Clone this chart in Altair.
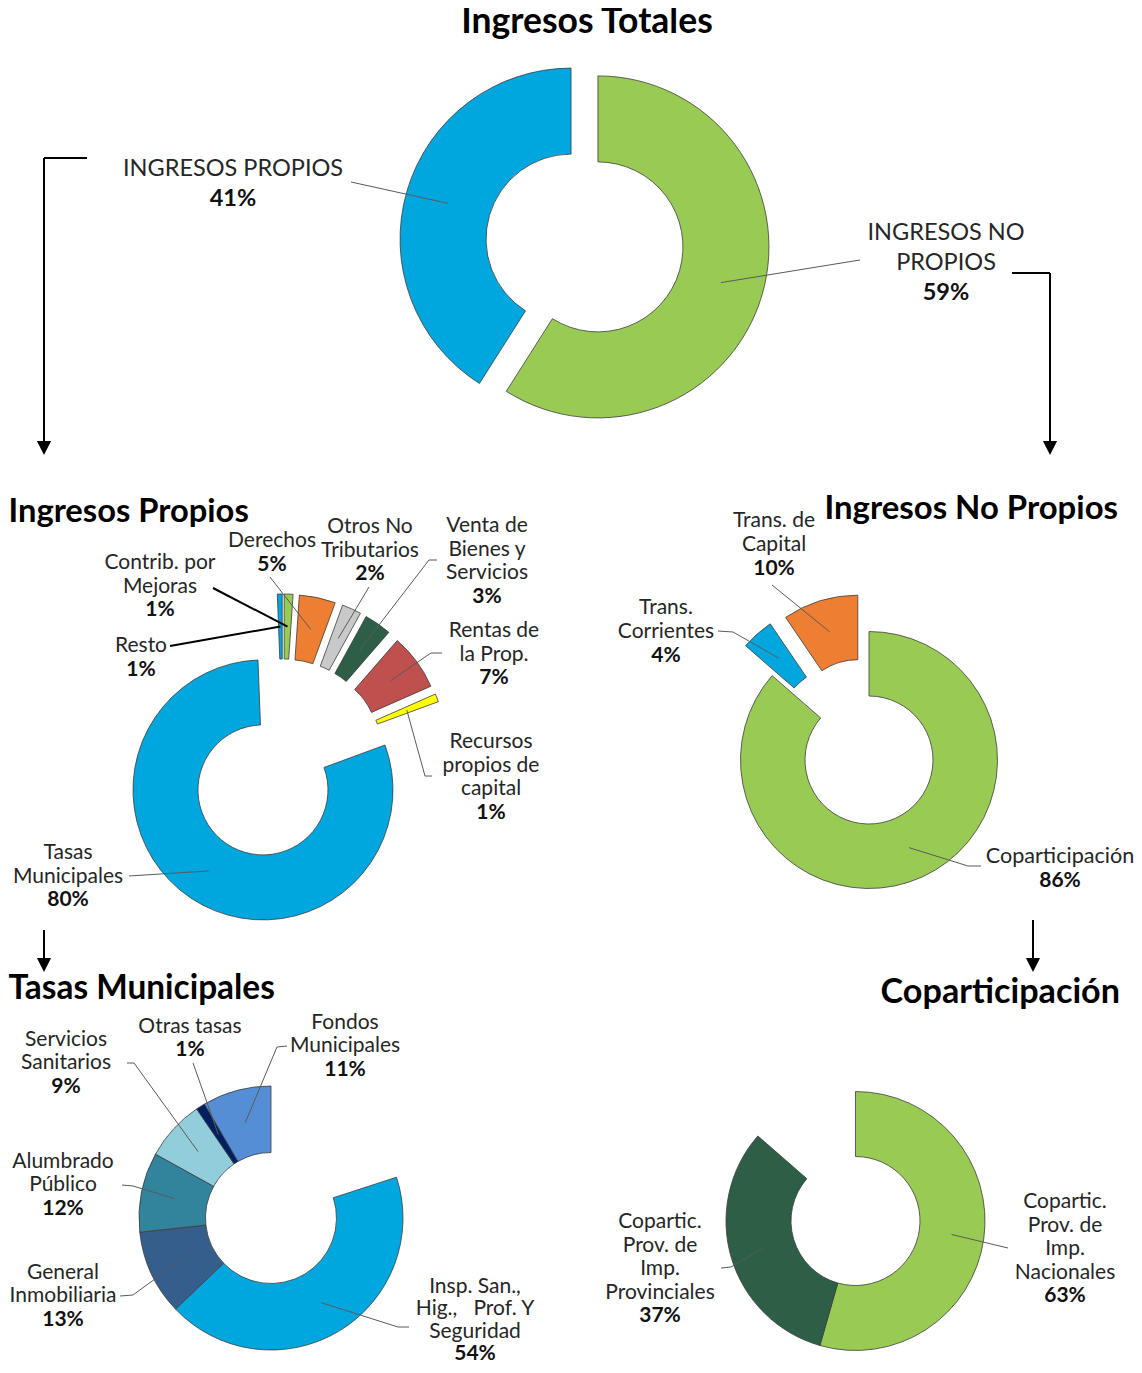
import altair as alt
import pandas as pd

# ---------------- data ----------------
total_names = ["INGRESOS NO\nPROPIOS", "INGRESOS PROPIOS"]
total_values = [59, 41]

propios_names = ["Resto", "Contrib. por\nMejoras", "Derechos", "Otros No\nTributarios",
                 "Venta de\nBienes y\nServicios", "Rentas de\nla Prop.",
                 "Recursos\npropios de\ncapital", "Tasas\nMunicipales"]
propios_values = [0.6, 1.1, 4.5, 2.4, 3.4, 7.0, 1.0, 80.0]

no_propios_names = ["Coparticipación", "Trans.\nCorrientes", "Trans. de\nCapital"]
no_propios_values = [86.4, 4.1, 9.5]

tasas_names = ["Insp. San.,\nHig.,\u00a0\u00a0 Prof. Y\nSeguridad", "General\nInmobiliaria",
               "Alumbrado\nPúblico", "Servicios\nSanitarios", "Otras tasas", "Fondos\nMunicipales"]
tasas_values = [53.6, 13.0, 12.2, 9.3, 1.4, 10.5]

copart_names = ["Copartic.\nProv. de\nImp.\nNacionales", "Copartic.\nProv. de\nImp.\nProvinciales"]
copart_values = [63, 37]

titles = ["Ingresos Totales", "Ingresos Propios", "Ingresos No Propios",
          "Tasas Municipales", "Coparticipación"]

# ---------------- styles / layout ----------------
OFF = 8
FONT = "Lato"
EDGE = "#3c3c3c"
LEAD = "#5a5a5a"
BLUE, GREEN, ORANGE = "#00A6DE", "#99CB54", "#EE7E32"
GREY, DKGREEN, RED, YELLOW = "#C9C9C9", "#2D5E46", "#C0504D", "#FFFF00"
NAVY, GENINM, ALUMB, SERV, FONDOS = "#00205F", "#355E8D", "#31849B", "#92CDDC", "#558ED5"

L_TOT = dict(c=(584.5, 243), R=171, r=85, start=0, span=360, explode=[14, 14],
             colors=[GREEN, BLUE], fs=23.5, lh=[30, 30],
             label=[(946, 233), (233, 169)],
             elbow=[(860, 260), (351, 182)], end=[(860, 260), (351, 182)],
             lw=[1, 1], lc=[LEAD, LEAD])
L_PROP = dict(c=(283, 760), R=130, r=65, start=-2.2, span=360, explode=[36] * 8,
              colors=[BLUE, GREEN, ORANGE, GREY, DKGREEN, RED, YELLOW, BLUE], fs=21, lh=[23.5] * 8,
              label=[(141, 646), (160, 563), (272, 541), (370, 527), (487, 526), (494, 631),
                     (491, 742), (68, 853)],
              elbow=[(170, 646), (213, 588), (270, 577), (369, 587), (429, 560), (431, 653),
                     (425, 776), (129, 876)],
              end=[(170, 646), (213, 588), (270, 577), (369, 587), (437, 560), (442, 653),
                   (432, 776), (129, 876)],
              lw=[2, 2, 1, 1, 1, 1, 1, 1], lc=["#000000", "#000000"] + [LEAD] * 6)
L_NOPROP = dict(c=(869, 760), R=128.5, r=64, start=0, span=360, explode=[0, 40, 38],
                colors=[GREEN, BLUE, ORANGE], fs=21, lh=[24] * 3,
                label=[(1060, 857), (666, 608), (774, 521)],
                elbow=[(968, 866), (733, 632), (772, 585)],
                end=[(981, 866), (718, 631), (772, 585)],
                lw=[1, 1, 1], lc=[LEAD] * 3)
L_TASAS = dict(c=(271, 1218), R=132, r=65.5, start=360 - 360 * propios_values[-1] / 100,
               span=360 * propios_values[-1] / 100, explode=[0] * 6,
               colors=[BLUE, GENINM, ALUMB, SERV, NAVY, FONDOS], fs=21,
               lh=[22.3, 23.3, 23.3, 23.3, 23.3, 23.3],
               label=[(475, 1287), (63, 1273), (63, 1162), (66, 1040), (190, 1027), (345, 1023)],
               elbow=[(398, 1327), (133, 1295), (133, 1186), (134, 1063), (193, 1063), (277, 1047)],
               end=[(409, 1327), (120, 1296), (122, 1185), (127, 1063), (193, 1063), (287, 1046)],
               lw=[1] * 6, lc=[LEAD] * 6)
L_COPA = dict(c=(855.5, 1221), R=129.5, r=64.5, start=0, span=360 * no_propios_values[0] / 100,
              explode=[0, 0], colors=[GREEN, DKGREEN], fs=21, lh=[23.5, 23.5],
              label=[(1065, 1202), (660, 1222)],
              elbow=[(1008, 1248), (731, 1267)], end=[(1008, 1248), (721, 1268)],
              lw=[1, 1], lc=[LEAD, LEAD])


def pct(v):
    return f"{int(v + 0.5)}%"


def ring(names, values, lay, label_fs=None):
    n = len(names)
    df = pd.DataFrame({
        "name": names, "val": values, "col": lay["colors"], "ord": list(range(n)),
        "exp": lay["explode"],
        "ex": [p[0] - OFF for p in lay["elbow"]], "ey": [p[1] - OFF for p in lay["elbow"]],
        "lx": [p[0] - OFF for p in lay["end"]], "ly": [p[1] - OFF for p in lay["end"]],
        "lw": lay["lw"], "lc": lay["lc"],
    })
    cx, cy = lay["c"][0] - OFF, lay["c"][1] - OFF
    rl = (lay["R"] + lay["r"]) / 2
    base = (
        alt.Chart(df)
        .transform_joinaggregate(tot="sum(val)")
        .transform_window(cum="sum(val)", sort=[alt.SortField("ord")], frame=[None, 0])
        .transform_calculate(t0=f"({lay['start']} + (datum.cum - datum.val) / datum.tot * {lay['span']}) * PI / 180")
        .transform_calculate(t1=f"({lay['start']} + datum.cum / datum.tot * {lay['span']}) * PI / 180")
        .transform_calculate(mid="(datum.t0 + datum.t1) / 2")
        .transform_calculate(px=f"{cx} + datum.exp * sin(datum.mid)")
        .transform_calculate(py=f"{cy} - datum.exp * cos(datum.mid)")
        .transform_calculate(ax=f"datum.px + {rl} * sin(datum.mid)")
        .transform_calculate(ay=f"datum.py - {rl} * cos(datum.mid)")
    )
    arcs = base.mark_arc(radius=lay["R"], radius2=lay["r"], stroke=EDGE, strokeWidth=0.8).encode(
        x=alt.X("px:Q", scale=None, axis=None),
        y=alt.Y("py:Q", scale=None, axis=None),
        theta=alt.Theta("t0:Q", scale=None),
        theta2=alt.Theta2("t1"),
        fill=alt.Fill("col:N", scale=None, legend=None),
    )
    lead1 = base.mark_rule().encode(
        x=alt.X("ax:Q", scale=None, axis=None),
        y=alt.Y("ay:Q", scale=None, axis=None),
        x2=alt.X2("ex"), y2=alt.Y2("ey"),
        strokeWidth=alt.StrokeWidth("lw:Q", scale=None, legend=None),
        color=alt.Color("lc:N", scale=None, legend=None),
    )
    lead2 = alt.Chart(df).mark_rule().encode(
        x=alt.X("ex:Q", scale=None, axis=None),
        y=alt.Y("ey:Q", scale=None, axis=None),
        x2=alt.X2("lx"), y2=alt.Y2("ly"),
        strokeWidth=alt.StrokeWidth("lw:Q", scale=None, legend=None),
        color=alt.Color("lc:N", scale=None, legend=None),
    )
    rows = []
    for i, nm in enumerate(names):
        lines = nm.split("\n")
        x0, y0 = lay["label"][i]
        lh = lay["lh"][i]
        fs = lay["fs"] if label_fs is None else label_fs[i]
        for j, ln in enumerate(lines):
            rows.append(dict(x=x0 - OFF, y=y0 - OFF + j * lh, t=ln, fs=fs, b=0))
        rows.append(dict(x=x0 - OFF, y=y0 - OFF + len(lines) * lh, t=pct(values[i]),
                         fs=lay["fs"], b=1))
    tdf = pd.DataFrame(rows)
    enc = dict(x=alt.X("x:Q", scale=None, axis=None), y=alt.Y("y:Q", scale=None, axis=None),
               text=alt.Text("t:N"), size=alt.Size("fs:Q", scale=None, legend=None))
    names_txt = alt.Chart(tdf[tdf.b == 0]).mark_text(
        font=FONT, align="center", baseline="middle", color="#262626").encode(**enc)
    pct_txt = alt.Chart(tdf[tdf.b == 1]).mark_text(
        font=FONT, fontWeight="bold", align="center", baseline="middle", color="#111111").encode(**enc)
    return [arcs, lead1, lead2, names_txt, pct_txt]


layers = []
layers += ring(total_names, total_values, L_TOT)
layers += ring(propios_names, propios_values, L_PROP)
layers += ring(no_propios_names, no_propios_values, L_NOPROP, label_fs=[21.6, 21, 21])
layers += ring(tasas_names, tasas_values, L_TASAS)
layers += ring(copart_names, copart_values, L_COPA)

# titles
title_pos = [(587, 22, "center", 35.5), (8.5, 512, "left", 32.7), (1118, 509, "right", 32.9),
             (8.5, 989, "left", 33.4), (1120, 993, "right", 34.2)]
for t, (tx, ty, al, fs) in zip(titles, title_pos):
    layers.append(
        alt.Chart(pd.DataFrame({"t": [t]})).mark_text(
            font=FONT, fontWeight="bold", fontSize=fs, align=al, baseline="middle", color="#000000"
        ).encode(x=alt.value(tx - OFF), y=alt.value(ty - OFF), text="t:N")
    )

# arrows
segs = [((87, 158), (44, 158)), ((44, 158), (44, 446)),
        ((1012, 273), (1050, 273)), ((1050, 273), (1050, 446)),
        ((44, 930), (44, 962)), ((1033, 920), (1033, 962))]
seg_df = pd.DataFrame({"x": [a[0] - OFF for a, b in segs], "y": [a[1] - OFF for a, b in segs],
                       "x2": [b[0] - OFF for a, b in segs], "y2": [b[1] - OFF for a, b in segs]})
layers.append(alt.Chart(seg_df).mark_rule(color="#000000", strokeWidth=2).encode(
    x=alt.X("x:Q", scale=None, axis=None), y=alt.Y("y:Q", scale=None, axis=None),
    x2=alt.X2("x2"), y2=alt.Y2("y2")))
tips = [(44, 455), (1050, 455), (44, 972), (1033, 972)]
tip_df = pd.DataFrame({"x": [p[0] - OFF for p in tips], "y": [p[1] - OFF - 7 for p in tips]})
layers.append(alt.Chart(tip_df).mark_point(
    shape="M-1,-1L1,-1L0,1Z", filled=True, size=200, color="#000000", opacity=1, strokeWidth=0
).encode(x=alt.X("x:Q", scale=None, axis=None), y=alt.Y("y:Q", scale=None, axis=None)))

chart = alt.layer(*layers).properties(
    width=1126, height=1357, padding=0,
    autosize=alt.AutoSizeParams(type="none"), background="white"
).configure_view(stroke=None)

chart.save("out.html", embed_options={"renderer": "svg", "actions": False})
